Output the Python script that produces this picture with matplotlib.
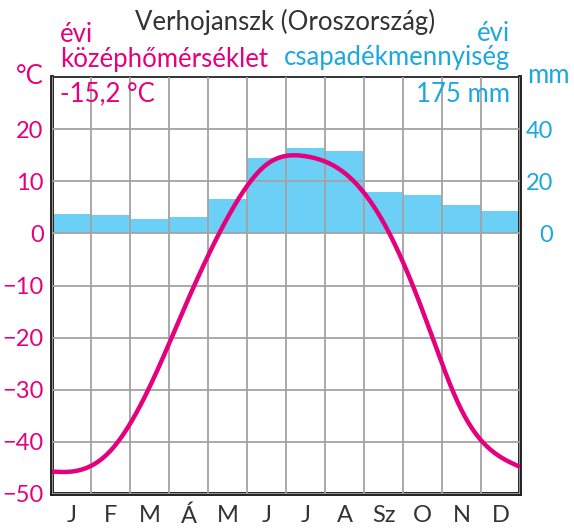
import numpy as np
from matplotlib import pyplot as plt
from matplotlib.ticker import FixedLocator

plt.rcParams['font.family'] = ['Lato', 'DejaVu Sans']

# adatok
months = ["J", "F", "M", "Á", "M", "J", "J", "A", "Sz", "O", "N", "D"]
tempValues = [-45.7, -41.7, -29.5, -12.5, 3.0, 13.2, 14.8, 11.6, 2.1, -14.8, -33.9, -42.9]
tempStart = -45.7
tempEnd = -44.8
precipValues = [7.3, 6.9, 5.4, 6.4, 13.0, 29.0, 32.8, 31.7, 15.8, 14.6, 10.9, 8.5]
tempTicks = [-50, -40, -30, -20, -10, 0, 10, 20]
precipTicks = [0, 20, 40]

title = "Verhojanszk (Oroszország)"
annualTemp = "-15,2 °C"
annualPrecip = "175 mm"

magenta = "#E5007D"
cyan = "#1BA8E0"
barBlue = "#6CCFF5"
yellow = "#FFF7A8"
gridGray = "#A3A3A3"
darkText = "#333333"


def naturalSpline(xs, ys, n=500):
    # natural cubic spline through the points
    xs = np.asarray(xs, dtype=float)
    ys = np.asarray(ys, dtype=float)
    k = len(xs)
    h = np.diff(xs)
    A = np.zeros((k, k))
    r = np.zeros(k)
    A[0, 0] = 1
    A[-1, -1] = 1
    for i in range(1, k-1):
        A[i, i-1] = h[i-1]
        A[i, i] = 2*(h[i-1] + h[i])
        A[i, i+1] = h[i]
        r[i] = 3*((ys[i+1]-ys[i])/h[i] - (ys[i]-ys[i-1])/h[i-1])
    c = np.linalg.solve(A, r)
    b = (ys[1:]-ys[:-1])/h - h*(2*c[:-1] + c[1:])/3
    d = (c[1:] - c[:-1])/(3*h)
    xOut = np.linspace(xs[0], xs[-1], n)
    idx = np.clip(np.searchsorted(xs, xOut, side="right") - 1, 0, k-2)
    dx = xOut - xs[idx]
    yOut = ys[idx] + b[idx]*dx + c[idx]*dx**2 + d[idx]*dx**3
    return xOut, yOut


fig = plt.figure(figsize=(5.74, 5.28), dpi=100)
ax = fig.add_axes([52/574, 1-494/528, 468/574, 417/528])
ax2 = ax.twinx()

# csapadek oszlopok (hatterben)
centers = np.arange(12) + 0.5
ax2.bar(centers, precipValues, width=1.0, color=barBlue, zorder=1)
ax2.set_ylim(-100, 60)
ax2.set_yticks(precipTicks)
ax2.tick_params(axis='y', length=0, labelsize=17, labelcolor=cyan, pad=23.8)
for lab in ax2.get_yticklabels():
    lab.set_horizontalalignment('right')
ax2.set_facecolor(yellow)

ax.set_zorder(ax2.get_zorder() + 1)
ax.patch.set_visible(False)

# homerseklet gorbe
xPts = [0] + list(centers) + [12]
yPts = [tempStart] + tempValues + [tempEnd]
cx, cy = naturalSpline(xPts, yPts)
ax.plot(cx, cy, color=magenta, lw=3.2, solid_capstyle='butt', zorder=5)

ax.set_xlim(0, 12)
ax.set_ylim(-50, 30)
ax.set_yticks(tempTicks)
ax.set_xticks(centers)
ax.set_xticklabels(months)
ax.xaxis.set_minor_locator(FixedLocator(np.arange(13)))
ax.grid(True, which='minor', axis='x', color=gridGray, lw=1.3)
ax.grid(True, which='major', axis='y', color=gridGray, lw=1.3)
ax.set_axisbelow(False)
ax.tick_params(axis='x', which='both', length=0, labelsize=17, labelcolor=darkText, pad=8)
ax.tick_params(axis='y', length=0, labelsize=17, labelcolor=magenta, pad=6)

for a in (ax, ax2):
    for side in ('left', 'right', 'bottom'):
        a.spines[side].set_linewidth(2.6)
        a.spines[side].set_color("#222222")
    a.spines['top'].set_linewidth(1.2)
    a.spines['top'].set_color(darkText)

# feliratok
fs = 18.5
fig.text(135/574, 1-30/528, title, ha='left', va='baseline', fontsize=fs, color=darkText)
fig.text(60/574, 1-41.5/528, "évi", ha='left', va='baseline', fontsize=fs, color=magenta)
fig.text(60/574, 1-66.5/528, "középhőmérséklet", ha='left', va='baseline', fontsize=fs, color=magenta)
fig.text(510/574, 1-41/528, "évi", ha='right', va='baseline', fontsize=fs, color=cyan)
fig.text(510/574, 1-65.5/528, "csapadékmennyiség", ha='right', va='baseline', fontsize=fs, color=cyan)
fig.text(44/574, 1-84/528, "°C", ha='right', va='baseline', fontsize=fs, color=magenta)
fig.text(527/574, 1-83/528, "mm", ha='left', va='baseline', fontsize=fs, color=cyan)
fig.text(60/574, 1-101.5/528, annualTemp, ha='left', va='baseline', fontsize=fs, color=magenta, zorder=6)
fig.text(510/574, 1-101.5/528, annualPrecip, ha='right', va='baseline', fontsize=fs, color=cyan, zorder=6)

fig.savefig("out.png", dpi=100)
